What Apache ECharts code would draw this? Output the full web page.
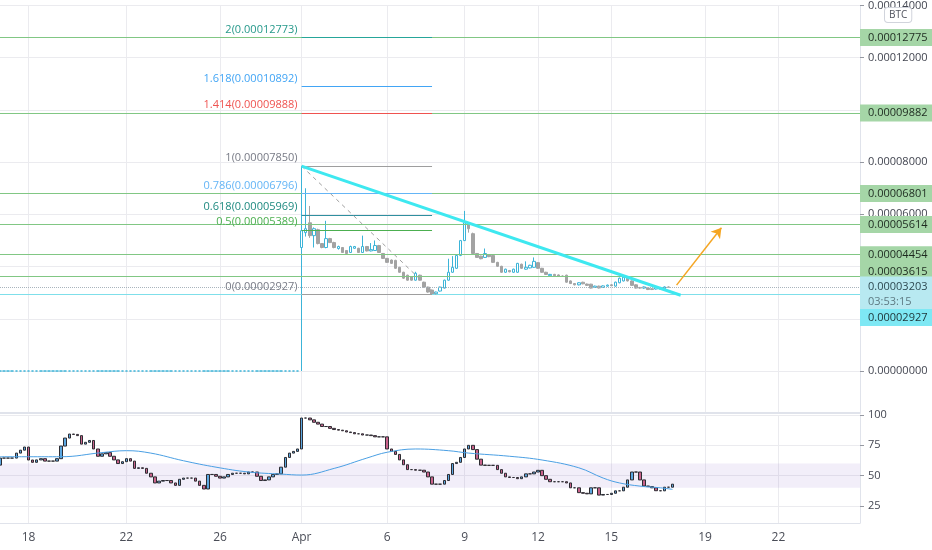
<!DOCTYPE html>
<html>
<head>
<meta charset="UTF-8">
<title>BTC pair - fib</title>
<style>
html, body { margin: 0; padding: 0; background: #fff; }
#main { width: 932px; height: 550px; }
</style>
</head>
<body>
<div id="main"></div>
<script src="https://cdn.jsdelivr.net/npm/echarts@6/dist/echarts.min.js"></script>
<script>
// 4h bars, one slot each. listing bar (Apr 1) sits at slot 74
var slotCount = 212;
var dateTicks = ['18', '22', '26', 'Apr', '6', '9', '12', '15', '19', '22'];
var dateTickSlots = [7, 31, 54, 74, 95, 114, 132, 150, 173, 191];

var listingSlot = 74;
// price bars after listing, in satoshi: [open, close, low, high]
var priceSats = [
    [4730, 5374, 0, 7850], [5300, 5450, 5150, 7000], [5677, 5185, 5100, 6322], [5185, 5450, 4730, 5500],
    [5412, 4881, 4850, 5450], [4881, 4730, 4700, 4900], [4730, 5071, 4700, 5753], [5071, 4919, 4900, 5100],
    [4919, 4730, 4700, 4950], [4692, 4768, 4650, 4800], [4730, 4540, 4520, 4750], [4616, 4502, 4480, 4630],
    [4540, 4768, 4520, 4800], [4700, 4768, 4680, 4790], [4700, 4540, 4520, 4720], [4540, 4768, 4520, 5185],
    [4768, 4600, 4580, 4790], [4600, 4650, 4580, 4900], [4616, 4805, 4600, 5000], [4805, 4540, 4520, 4830],
    [4502, 4313, 4290, 4520], [4313, 4161, 4140, 4330], [4250, 4123, 4100, 4270], [4237, 3934, 3910, 4260],
    [3972, 3782, 3760, 3990], [3782, 3555, 3530, 3800], [3669, 3479, 3460, 3690], [3600, 3479, 3460, 3620],
    [3479, 3744, 3460, 3800], [3669, 3479, 3460, 3690], [3403, 3214, 3190, 3420], [3214, 3024, 3000, 3230],
    [3100, 2950, 2927, 3110], [2960, 3024, 2940, 3040], [3062, 3214, 3040, 3230], [3176, 3479, 3160, 3500],
    [3479, 3782, 3460, 4300], [3782, 3972, 3760, 4400], [3934, 4426, 3910, 4450], [4426, 4995, 4400, 5020],
    [4995, 5677, 4980, 6132], [5677, 5450, 5300, 5700], [5260, 4502, 4480, 5300], [4502, 4351, 4330, 4520],
    [4400, 4300, 4280, 4420], [4350, 4500, 4330, 4692], [4450, 4380, 4360, 4470], [4426, 4161, 4140, 4440],
    [4161, 4010, 3990, 4180], [4010, 3782, 3760, 4030], [3782, 3900, 3760, 3920], [3850, 3800, 3780, 3870],
    [3782, 3900, 3760, 3920], [3782, 4123, 3760, 4140], [4090, 3934, 3910, 4110], [3900, 3972, 3880, 4200],
    [3950, 4050, 3930, 4070], [3972, 4200, 3950, 4350], [4150, 3934, 3910, 4170], [3934, 3782, 3760, 3950],
    [3782, 3700, 3680, 3800], [3650, 3700, 3630, 3720], [3700, 3650, 3630, 3720], [3680, 3640, 3620, 3700],
    [3640, 3620, 3600, 3660], [3669, 3403, 3380, 3690], [3450, 3350, 3330, 3470], [3350, 3300, 3280, 3370],
    [3300, 3380, 3280, 3400], [3400, 3340, 3320, 3420], [3330, 3280, 3260, 3350], [3327, 3176, 3160, 3340],
    [3200, 3250, 3180, 3270], [3250, 3180, 3160, 3270], [3200, 3260, 3180, 3280], [3250, 3290, 3230, 3310],
    [3300, 3270, 3250, 3320], [3252, 3403, 3230, 3420], [3380, 3555, 3360, 3580], [3450, 3593, 3430, 3620],
    [3600, 3450, 3430, 3620], [3450, 3280, 3260, 3470], [3300, 3176, 3160, 3320], [3200, 3176, 3150, 3220],
    [3176, 3220, 3150, 3240], [3176, 3120, 3100, 3200], [3150, 3120, 3100, 3170], [3140, 3200, 3120, 3220],
    [3200, 3130, 3110, 3220], [3150, 3220, 3130, 3240], [3220, 3203, 3180, 3240]
];

// lower pane oscillator, closes per slot from slot 0
var oscFirstOpen = 58.7;
var oscCloses = [
    64.5, 64.5, 64.5, 64.5, 68.6, 71, 73.6, 62.9, 61, 63, 64, 62, 62, 62, 64,
    74.4, 81, 84.3, 84, 83, 76, 77.5, 79, 72, 66, 68, 69, 66, 63, 60, 61.5, 64, 62,
    56, 56.5, 56, 52, 49, 44, 45.5, 46, 46, 44, 42, 47, 48, 48, 48, 45.5, 42, 39,
    51, 51, 49.5, 48, 49, 51, 52, 52, 52, 51.5, 53, 53, 49.5, 46, 46.5, 49, 51, 51.5,
    57, 65, 68.6, 70, 72,
    97.5, 97.5, 96, 94, 92.5, 90.5, 90.5, 89, 88, 87.5, 87, 86, 85.5,
    84.5, 84.5, 83.5, 83.5, 83, 82, 82, 82,
    72, 70, 67.5, 63, 59, 55, 55, 54.5, 54.5, 53, 49, 43, 43, 43, 46, 51, 60, 61, 65, 72, 75,
    71.5, 63.6, 58.7, 58.5, 58.5, 58.5, 55, 52, 49, 48.5, 48.5, 47.5, 49, 51.5, 51.5, 53, 54.4,
    50, 47, 45, 45, 45, 45, 44, 40, 40, 36, 35.5, 35, 40, 40, 34, 34.5, 34.5, 35.5, 37.5, 37.5,
    40.5, 46.5, 53, 53, 46.5, 41.5, 41, 40, 37.6, 37.5, 40.5, 40.5, 43
];
// its moving average, read at [slot, value]
var oscAvg = [
    [0, 65.6], [7, 65.6], [15, 65.6], [25, 69], [31, 70.6], [37, 68.6], [45, 62.3], [53, 57],
    [61, 53], [69, 51.3], [74, 50.5], [82, 56], [90, 64.5], [95, 69.3], [102, 72], [110, 70.6],
    [115, 68.6], [125, 66], [133, 62.9], [142, 56.5], [148, 48], [152, 44], [157, 41.4], [162, 40], [165, 38.7]
];
var oscBand = [40, 60];

var fibRatios = ['2', '1.618', '1.414', '1', '0.786', '0.618', '0.5', '0'];
var fibPrices = [0.00012773, 0.00010892, 0.00009888, 0.0000785, 0.00006796, 0.00005969, 0.00005389, 0.00002927];
var fibFrom = 74, fibTo = 106;

var levelPrices = [0.00012775, 0.00009882, 0.00006801, 0.00005614, 0.00004454, 0.00003615];
var supportPrice = 0.00002927;
var lastPrice = 0.00003203;
var countdown = '03:53:15';

var trendLine = [[74, 0.0000785], [167, 0.000029]];
var fibDiagonal = [[74, 0.0000785], [107, 0.00002927]];
var arrowLine = [[166, 0.0000329], [177, 0.0000549]];

// styles
var fibLineColors = ['#26a69a', '#42a5f5', '#ef5350', '#9e9e9e', '#64b5f6', '#2f8f9f', '#4caf50', '#9e9e9e'];
var fibTextColors = ['#26998b', '#42a5f5', '#ef5350', '#787b86', '#64b5f6', '#1f8a80', '#4caf50', '#787b86'];
var levelBadgeShift = [0, 0, 0, 0, 0, -5];
var gridColor = '#ebebef';
var font = 'Open Sans';

var slots = [];
for (var i = 0; i < slotCount; i++) slots.push(String(i));

var priceData = [];
for (i = 0; i < listingSlot; i++) priceData.push([0, 0, 0, 0]);
priceSats.forEach(function (r) {
    priceData.push(r.map(function (v) { return v / 1e8; }));
});

var oscData = [];
var prev = oscFirstOpen;
oscCloses.forEach(function (c) {
    oscData.push([prev, c, Math.min(prev, c), Math.max(prev, c)]);
    prev = c;
});

function isTick(idx) { return dateTickSlots.indexOf(idx) >= 0; }

function makeX(g, labels, line) {
    return {
        type: 'category', gridIndex: g, data: slots, boundaryGap: false,
        axisTick: { show: false },
        axisLine: { show: !!line, onZero: false, lineStyle: { color: '#e0e3eb', width: line === 2 ? 2 : 1 } },
        axisLabel: {
            show: labels, interval: isTick, margin: 9, color: '#4a4d57', fontSize: 12, fontFamily: font,
            formatter: function (v, idx) {
                var k = dateTickSlots.indexOf(idx);
                return k >= 0 ? dateTicks[k] : '';
            }
        },
        splitLine: { show: true, interval: isTick, lineStyle: { color: gridColor } }
    };
}

function blankY(g) {
    return {
        type: 'value', gridIndex: g, position: 'right', min: 0, max: 1,
        axisLine: { show: true, lineStyle: { color: '#e0e3eb' } },
        axisTick: { show: false }, axisLabel: { show: false }, splitLine: { show: false }
    };
}

// horizontal line at a price across the pane, badge on the price scale
function levelLine(p, lineStyle, label) {
    return { yAxis: p, lineStyle: lineStyle, label: label };
}

var levelMarks = [];
levelPrices.forEach(function (p, k) {
    levelMarks.push(levelLine(p,
        { color: '#81c784', width: 1, type: 'solid' },
        {
            show: true, position: 'end', distance: 0, formatter: p.toFixed(8),
            backgroundColor: '#a5d6a7', color: '#1d2a1f', padding: [3, 6, 3, 8],
            fontSize: 11, fontFamily: font, offset: [0, levelBadgeShift[k]]
        }));
});
levelMarks.push(levelLine(lastPrice,
    { color: '#a9b4bd', width: 1, type: 'dotted' },
    {
        show: true, position: 'end', distance: 0,
        formatter: '{a|' + lastPrice.toFixed(8) + '}\n{b|' + countdown + '}',
        backgroundColor: '#b8e9f1', padding: [3, 6, 3, 8], offset: [0, 7],
        rich: {
            a: { color: '#2e4a52', fontSize: 11, fontFamily: font, lineHeight: 15 },
            b: { color: '#5d7a82', fontSize: 11, fontFamily: font, lineHeight: 15 }
        }
    }));
levelMarks.push(levelLine(supportPrice,
    { color: '#7fdfea', width: 1, type: 'solid' },
    {
        show: true, position: 'end', distance: 0, formatter: supportPrice.toFixed(8),
        backgroundColor: '#7ee8f4', color: '#1d3236', padding: [3, 6, 3, 8],
        fontSize: 11, fontFamily: font, offset: [0, 23]
    }));

var drawMarks = [];
fibRatios.forEach(function (r, k) {
    drawMarks.push([
        {
            coord: [fibFrom, fibPrices[k]],
            lineStyle: { color: fibLineColors[k], width: 1, type: 'solid' },
            label: {
                show: true, position: 'start', distance: 4,
                formatter: r + '(' + fibPrices[k].toFixed(8) + ')',
                color: fibTextColors[k], fontSize: 11, fontFamily: font, offset: [0, -8]
            }
        },
        { coord: [fibTo, fibPrices[k]] }
    ]);
});
drawMarks.push([
    { coord: fibDiagonal[0], lineStyle: { color: '#a0a0a0', width: 1, type: [4, 4] } },
    { coord: fibDiagonal[1] }
]);
drawMarks.push([
    { coord: trendLine[0], lineStyle: { color: '#3ee8f0', width: 3, type: 'solid' } },
    { coord: trendLine[1] }
]);
drawMarks.push([
    { coord: arrowLine[0], lineStyle: { color: '#f5a623', width: 1.5, type: 'solid' } },
    { coord: arrowLine[1], symbol: 'arrow', symbolSize: [9, 10] }
]);

var chart = echarts.init(document.getElementById('main'));
chart.setOption({
    animation: false,
    backgroundColor: '#ffffff',
    textStyle: { fontFamily: font },
    grid: [
        { left: 0, right: 72, top: 2.5, height: 368.5 },
        { left: 0, right: 72, top: 371, height: 42 },
        { left: 0, right: 72, top: 415, height: 91 },
        { left: 0, right: 72, top: 506, height: 17 }
    ],
    xAxis: [makeX(0, false, 0), makeX(1, false, 2), makeX(2, false, 0), makeX(3, true, 1)],
    yAxis: [
        {
            type: 'value', gridIndex: 0, position: 'right', min: 0, max: 0.00014, interval: 0.00002,
            axisLine: { show: true, lineStyle: { color: '#e0e3eb' } },
            axisTick: { show: true, length: 4, lineStyle: { color: '#9598a1' } },
            axisLabel: {
                color: '#434651', fontSize: 11, fontFamily: font, margin: 8,
                formatter: function (v) { return v.toFixed(8); }
            },
            splitLine: { lineStyle: { color: gridColor } }
        },
        blankY(1),
        {
            type: 'value', gridIndex: 2, position: 'right', min: 25, max: 100, interval: 25,
            axisLine: { show: true, lineStyle: { color: '#e0e3eb' } },
            axisTick: { show: true, length: 4, lineStyle: { color: '#9598a1' } },
            axisLabel: { color: '#434651', fontSize: 11, fontFamily: font, margin: 8 },
            splitLine: { lineStyle: { color: gridColor } }
        },
        blankY(3)
    ],
    series: [
        {
            // horizontal price levels + price scale badges
            name: 'levels', type: 'line', xAxisIndex: 0, yAxisIndex: 0, data: [], z: 1,
            markLine: {
                silent: true, symbol: ['none', 'none'], animation: false, precision: 10,
                label: { show: false }, emphasis: { disabled: true },
                data: levelMarks
            }
        },
        {
            name: 'price', type: 'candlestick', xAxisIndex: 0, yAxisIndex: 0,
            data: priceData, barWidth: 3, z: 3,
            itemStyle: {
                color: '#ffffff', color0: '#a3a3a3',
                borderColor: '#3cb4d8', borderColor0: '#a3a3a3', borderWidth: 1
            },
            markLine: {
                silent: true, symbol: ['none', 'none'], animation: false, precision: 10,
                label: { show: false }, emphasis: { disabled: true },
                data: drawMarks
            }
        },
        {
            name: 'osc', type: 'candlestick', xAxisIndex: 2, yAxisIndex: 2,
            data: oscData, barWidth: 3,
            itemStyle: {
                color: '#5ca8e2', color0: '#c9628b',
                borderColor: '#2d2d33', borderColor0: '#2d2d33', borderColorDoji: '#2d2d33', borderWidth: 1
            },
            markArea: {
                silent: true,
                itemStyle: { color: 'rgba(126,87,194,0.1)' },
                data: [[{ yAxis: oscBand[0] }, { yAxis: oscBand[1] }]]
            }
        },
        {
            name: 'avg', type: 'line', xAxisIndex: 2, yAxisIndex: 2,
            data: oscAvg, smooth: 0.4, showSymbol: false,
            lineStyle: { color: '#4a9fe3', width: 1 }
        }
    ],
    graphic: [{
        type: 'text', left: 884, top: 7, z: 100,
        style: {
            text: 'BTC', fill: '#50535e', fontSize: 10, fontFamily: font,
            backgroundColor: '#ffffff', borderColor: '#d1d4dc', borderWidth: 1, borderRadius: 3,
            padding: [2, 4]
        }
    }]
});
</script>
</body>
</html>
